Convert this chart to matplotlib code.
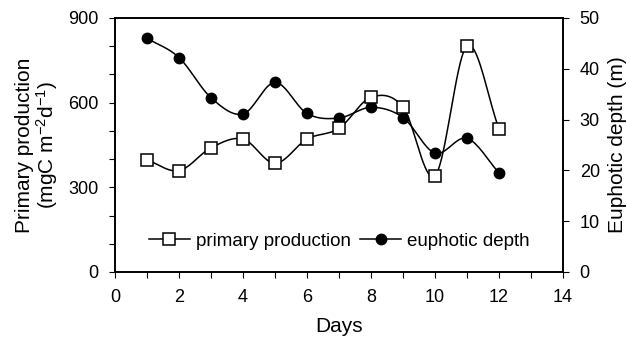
import numpy as np
import matplotlib.pyplot as plt

plt.rcParams['font.family'] = ['Liberation Sans', 'DejaVu Sans']
plt.rcParams['mathtext.default'] = 'regular'

days = [1, 2, 3, 4, 5, 6, 7, 8, 9, 10, 11, 12]
production = [397, 359, 440, 471, 385, 471, 509, 619, 584, 341, 801, 507]
depth = [46.0, 42.2, 34.3, 31.1, 37.3, 31.2, 30.3, 32.4, 30.4, 23.4, 26.3, 19.5]


def smooth(x, y, n=20):
    # Catmull-Rom curve through the points, like a spreadsheet "smoothed line"
    x = np.asarray(x, float)
    y = np.asarray(y, float)
    px = np.concatenate([[2 * x[0] - x[1]], x, [2 * x[-1] - x[-2]]])
    py = np.concatenate([[2 * y[0] - y[1]], y, [2 * y[-1] - y[-2]]])
    t = np.linspace(0, 1, n)
    xs, ys = [], []
    for i in range(1, len(px) - 2):
        for p, out in ((px, xs), (py, ys)):
            p0, p1, p2, p3 = p[i - 1], p[i], p[i + 1], p[i + 2]
            out.extend(0.5 * (2 * p1 + (-p0 + p2) * t
                              + (2 * p0 - 5 * p1 + 4 * p2 - p3) * t ** 2
                              + (-p0 + 3 * p1 - 3 * p2 + p3) * t ** 3))
    return np.array(xs), np.array(ys)


fig = plt.figure(figsize=(6.27, 3.45), dpi=100)
ax1 = fig.add_axes([0.1834, 0.2116, 0.7146, 0.7364])
ax2 = ax1.twinx()

sx, sy = smooth(days, depth)
ax2.plot(sx, sy, color='black', lw=1.1)
ax2.plot(days, depth, 'o', color='black', ms=7.5)

sx, sy = smooth(days, production)
ax1.plot(sx, sy, color='black', lw=1.1)
ax1.plot(days, production, 's', color='black', mfc='white', ms=8, mew=1.1)

ax1.set_zorder(ax2.get_zorder() + 1)
ax1.patch.set_visible(False)

ax1.set_xlim(0, 14)
ax1.set_ylim(0, 900)
ax2.set_ylim(0, 50)
ax1.set_xticks(range(0, 15, 2))
ax1.set_xticks(range(0, 15), minor=True)
ax1.set_yticks([0, 300, 600, 900])
ax1.set_yticks(range(0, 901, 100), minor=True)
ax2.set_yticks(range(0, 51, 10))

for a in (ax1, ax2):
    a.tick_params(direction='out', labelsize=13, length=4, width=0.8, pad=8)
    a.tick_params(which='minor', direction='out', length=4, width=0.8)
    for s in a.spines.values():
        s.set_linewidth(1.2)

ax1.set_xlabel('Days', fontsize=15, labelpad=8)
ax1.set_ylabel('Primary production\n(mgC m$^{-2}$d$^{-1}$)', fontsize=15, labelpad=6,
               linespacing=1.0)
ax2.set_ylabel('Euphotic depth (m)', fontsize=15, labelpad=6)

h1 = plt.Line2D([], [], color='black', lw=1.1, marker='s', mfc='white', ms=8, mew=1.1)
h2 = plt.Line2D([], [], color='black', lw=1.1, marker='o', ms=7.5)
ax1.legend([h1, h2], ['primary production', 'euphotic depth'], loc='lower center',
           ncol=2, frameon=False, fontsize=13.5, handlelength=2.2, handletextpad=0.3,
           columnspacing=0.5, bbox_to_anchor=(0.5, 0.02))

fig.savefig('out.png', dpi=100)
